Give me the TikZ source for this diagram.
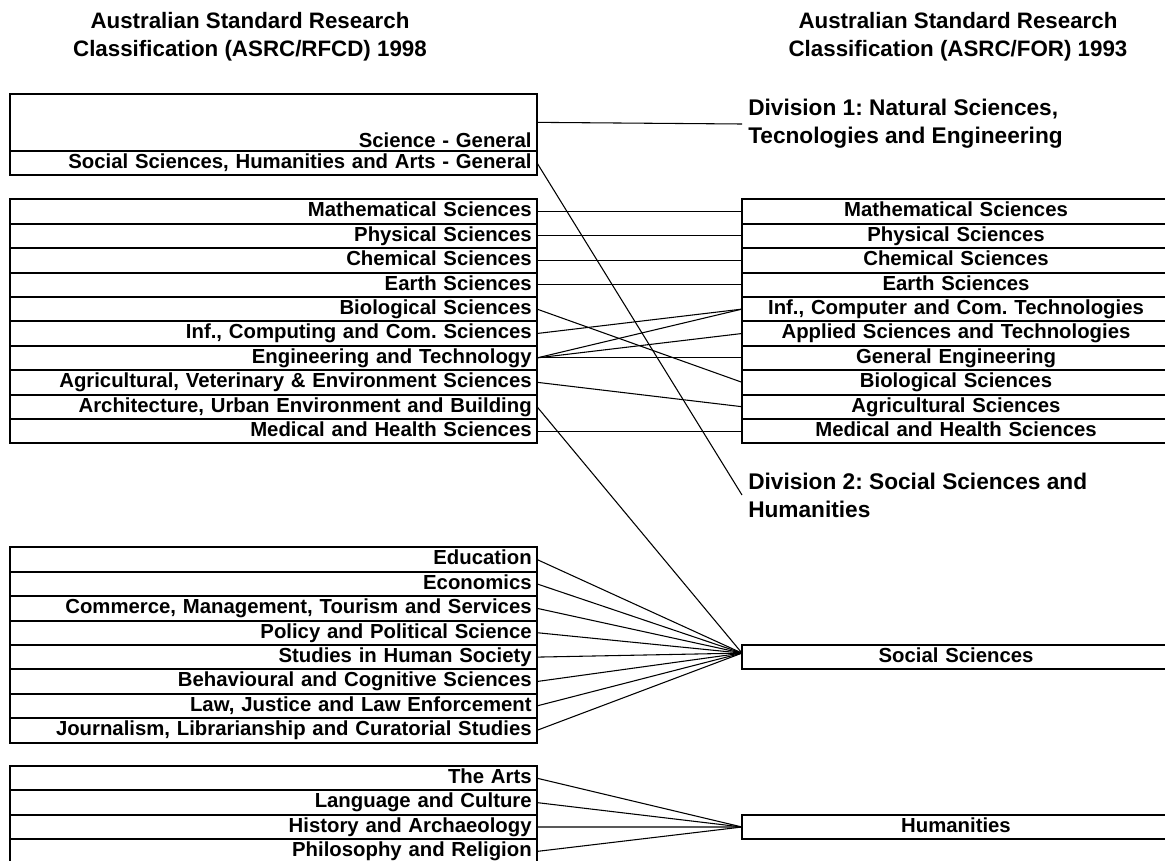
\documentclass[tikz,border=0pt]{standalone}
\usepackage{fontspec}
\setmainfont{Liberation Sans}
\usetikzlibrary{positioning}
\frenchspacing

\begin{document}
\begin{tikzpicture}[
    x=0.75pt, y=-0.75pt,
    lrow/.style={draw, line width=1.5pt, outer sep=0pt, inner xsep=4pt, inner ysep=0pt,
                 minimum width=395.25pt, minimum height=18.3pt, text width=387.25pt,
                 align=right, text height=12pt, text depth=4pt,
                 font=\fontsize{15.25}{18}\selectfont\bfseries},
    rrow/.style={lrow, minimum width=321pt, text width=313pt, align=center},
    head/.style={align=center, font=\fontsize{16.75}{21}\selectfont\bfseries},
    division/.style={anchor=west, align=left, inner xsep=4.5pt,
                     font=\fontsize{17}{21}\selectfont\bfseries},
    link/.style={line width=0.8pt}
]
\useasboundingbox (0,0) rectangle (1165,861);

% headings
\node[head] (hleft) at (250,37) {Australian Standard Research\\Classification (ASRC/RFCD) 1998};
\node[head] (hright) at (958,37) {Australian Standard Research\\Classification (ASRC/FOR) 1993};

% 1998 side
\node[lrow, minimum height=42.5pt, text height=38.5pt, text depth=1.5pt] (lsci) at (273.5,122.35) {Science - General};
\node[lrow, below=0pt of lsci] (lshag) {Social Sciences, Humanities and Arts - General};

\node[lrow] (lmath) at (273.5,211.5) {Mathematical Sciences};
\node[lrow, below=0pt of lmath] (lphys) {Physical Sciences};
\node[lrow, below=0pt of lphys] (lchem) {Chemical Sciences};
\node[lrow, below=0pt of lchem] (learth) {Earth Sciences};
\node[lrow, below=0pt of learth] (lbio) {Biological Sciences};
\node[lrow, below=0pt of lbio] (linf) {Inf., Computing and Com. Sciences};
\node[lrow, below=0pt of linf] (leng) {Engineering and Technology};
\node[lrow, below=0pt of leng] (lagr) {Agricultural, Veterinary \& Environment Sciences};
\node[lrow, below=0pt of lagr] (larch) {Architecture, Urban Environment and Building};
\node[lrow, below=0pt of larch] (lmed) {Medical and Health Sciences};

\node[lrow] (ledu) at (273.5,559.5) {Education};
\node[lrow, below=0pt of ledu] (lecon) {Economics};
\node[lrow, below=0pt of lecon] (lcomm) {Commerce, Management, Tourism and Services};
\node[lrow, below=0pt of lcomm] (lpol) {Policy and Political Science};
\node[lrow, below=0pt of lpol] (lhum) {Studies in Human Society};
\node[lrow, below=0pt of lhum] (lbeh) {Behavioural and Cognitive Sciences};
\node[lrow, below=0pt of lbeh] (llaw) {Law, Justice and Law Enforcement};
\node[lrow, below=0pt of llaw] (ljour) {Journalism, Librarianship and Curatorial Studies};

\node[lrow] (larts) at (273.5,778.2) {The Arts};
\node[lrow, below=0pt of larts] (llang) {Language and Culture};
\node[lrow, below=0pt of llang] (lhist) {History and Archaeology};
\node[lrow, below=0pt of lhist] (lphil) {Philosophy and Religion};

% 1993 side
\node[division] (div1) at (742,124) {Division 1: Natural Sciences,\\Tecnologies and Engineering};

\node[rrow] (rmath) at (956,211.5) {Mathematical Sciences};
\node[rrow, below=0pt of rmath] (rphys) {Physical Sciences};
\node[rrow, below=0pt of rphys] (rchem) {Chemical Sciences};
\node[rrow, below=0pt of rchem] (rearth) {Earth Sciences};
\node[rrow, below=0pt of rearth] (rinf) {Inf., Computer and Com. Technologies};
\node[rrow, below=0pt of rinf] (rapp) {Applied Sciences and Technologies};
\node[rrow, below=0pt of rapp] (reng) {General Engineering};
\node[rrow, below=0pt of reng] (rbio) {Biological Sciences};
\node[rrow, below=0pt of rbio] (ragr) {Agricultural Sciences};
\node[rrow, below=0pt of ragr] (rmed) {Medical and Health Sciences};

\node[division] (div2) at (742,495) {Division 2: Social Sciences and\\Humanities};

\node[rrow] (rsoc) at (956,657.1) {Social Sciences};
\node[rrow] (rhum) at (956,827) {Humanities};
\coordinate (socin) at ([yshift=3pt]rsoc.west);

% links
\draw[link] (lsci.east) -- (div1.west);
\draw[link] (lshag.east) -- (div2.west);
\draw[link] (lmath.east) -- (rmath.west);
\draw[link] (lphys.east) -- (rphys.west);
\draw[link] (lchem.east) -- (rchem.west);
\draw[link] (learth.east) -- (rearth.west);
\draw[link] (lbio.east) -- (rbio.west);
\draw[link] (linf.east) -- (rinf.west);
\draw[link] (leng.east) -- (rinf.west);
\draw[link] (leng.east) -- (rapp.west);
\draw[link] (leng.east) -- (reng.west);
\draw[link] (lagr.east) -- (ragr.west);
\draw[link] (larch.east) -- (socin);
\draw[link] (lmed.east) -- (rmed.west);

\foreach \src in {ledu,lecon,lcomm,lpol,lhum,lbeh,llaw,ljour}
    \draw[link] (\src.east) -- (socin);
\foreach \src in {larts,llang,lhist,lphil}
    \draw[link] (\src.east) -- (rhum.west);

\end{tikzpicture}
\end{document}
